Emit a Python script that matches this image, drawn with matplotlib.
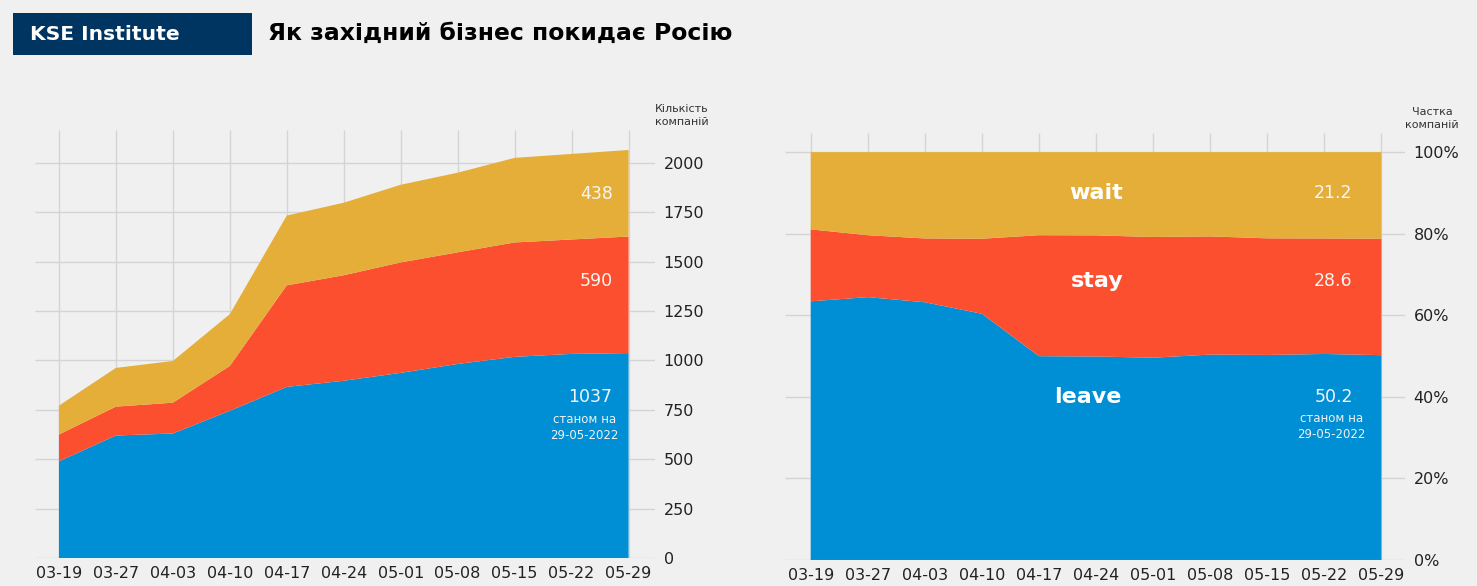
import numpy as np
import matplotlib
matplotlib.use("Agg")
import matplotlib.pyplot as plt

plt.style.use("fivethirtyeight")
plt.rcParams["font.family"] = ["DejaVu Sans"]

dates = ["03-19", "03-27", "04-03", "04-10", "04-17", "04-24",
         "05-01", "05-08", "05-15", "05-22", "05-29"]
leave = [489, 620, 630, 745, 866, 897, 937, 982, 1018, 1033, 1037]
stay = [136, 146, 156, 227, 514, 534, 559, 565, 579, 579, 590]
wait = [146, 196, 211, 262, 353, 367, 393, 403, 428, 433, 438]
names = ["leave", "stay", "wait"]
colors = ["#008fd5", "#fc4f30", "#e5ae38"]
asof = "станом на\n29-05-2022"

x = np.arange(len(dates))
counts = np.array([leave, stay, wait], dtype=float)
shares = counts / counts.sum(axis=0) * 100

fig = plt.figure(figsize=(14.77, 5.86), dpi=100)
fig.patch.set_facecolor("#f0f0f0")

ax1 = fig.add_axes([0.0237, 0.0478, 0.42, 0.730])
ax2 = fig.add_axes([0.5315, 0.0444, 0.42, 0.7287])

for ax in (ax1, ax2):
    ax.set_facecolor("#f0f0f0")
    ax.grid(True, color="#d4d4d4", linewidth=1.0)
    ax.set_axisbelow(True)
    ax.yaxis.tick_right()
    ax.set_xticks(x)
    ax.set_xticklabels(dates)
    ax.tick_params(axis="both", length=0, labelsize=11.5, colors="#222222")
    ax.tick_params(axis="x", pad=6)
    ax.tick_params(axis="y", pad=6)
    ax.set_xlim(-0.42, 10.47)
    for s in ax.spines.values():
        s.set_visible(False)

# left: number of companies
ax1.stackplot(x, counts, colors=colors, linewidth=0)
ax1.set_ylim(0, 2165)
ax1.set_yticks([0, 250, 500, 750, 1000, 1250, 1500, 1750, 2000])
ax1.text(1.043, 1.008, "Кількість\nкомпаній", transform=ax1.transAxes,
         ha="center", va="bottom", fontsize=8, color="#333333", linespacing=1.3)

count_lab_y = [816, 1400, 1840]
for i in range(3):
    ax1.text(9.72, count_lab_y[i], "%d" % counts[i, -1], ha="right", va="center",
             fontsize=12.5, color="#f5f5f5")
ax1.text(9.23, count_lab_y[0] - 82, asof, ha="center", va="top", fontsize=8.5,
         color="#f0f0f0", linespacing=1.35)

# right: share of companies
ax2.stackplot(x, shares, colors=colors, linewidth=0)
ax2.set_ylim(0, 104.7)
ax2.set_yticks([0, 20, 40, 60, 80, 100])
ax2.set_yticklabels(["0%", "20%", "40%", "60%", "80%", "100%"])
ax2.set_xlim(-0.45, 10.42)
ax2.text(1.043, 1.008, "Частка\nкомпаній", transform=ax2.transAxes,
         ha="center", va="bottom", fontsize=8, color="#333333", linespacing=1.3)

share_lab_y = [40, 68.5, 90]
name_x = [4.86, 5.02, 5.0]
for i in range(3):
    ax2.text(name_x[i], share_lab_y[i], names[i], ha="center", va="center",
             fontsize=16, fontweight="bold", color="white")
    ax2.text(9.16, share_lab_y[i], "%.1f" % shares[i, -1], ha="center", va="center",
             fontsize=12.5, color="#f5f5f5")
ax2.text(9.12, share_lab_y[0] - 3.6, asof, ha="center", va="top", fontsize=8.5,
         color="#f0f0f0", linespacing=1.35)

# header
fig.patches.append(plt.Rectangle((13 / 1477, 1 - 55 / 586), 239 / 1477, 42 / 586,
                                 transform=fig.transFigure, facecolor="#003461",
                                 edgecolor="none"))
fig.text(30 / 1477, 1 - 34 / 586, "KSE Institute", ha="left", va="center",
         fontsize=14.6, fontweight="bold", color="white")
fig.text(268 / 1477, 1 - 33 / 586, "Як західний бізнес покидає Росію", ha="left",
         va="center", fontsize=16.9, fontweight="bold", color="black")

fig.savefig("out.png", dpi=100, facecolor=fig.get_facecolor())
